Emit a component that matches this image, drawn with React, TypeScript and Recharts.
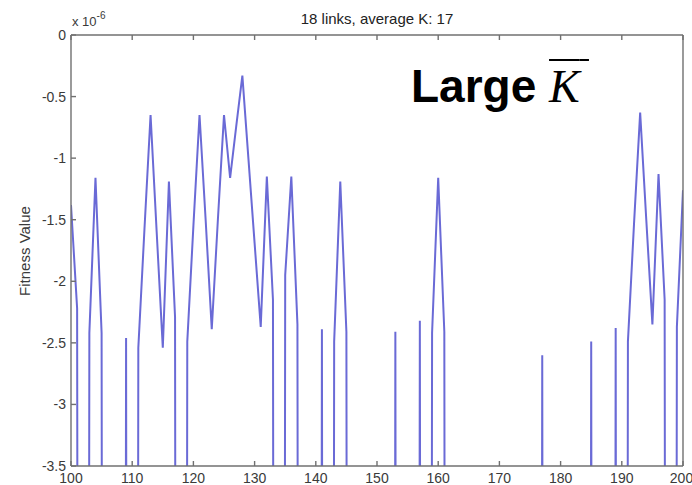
import { LineChart, Line, XAxis, YAxis } from "recharts";

// infeasible link settings: fitness far below the plotted range
const OFF = -40;

// fitness (x 1e-6) for link counts 100..200
const firstLink = 100;
const fitness = [
  -1.38, -2.22, OFF, -2.42, -1.16, -2.42, OFF, OFF, OFF, -2.46,
  OFF, -2.54, -1.58, -0.65, -1.6, -2.54, -1.19, -2.29, OFF, -2.49,
  -1.55, -0.65, -1.5, -2.39, -1.5, -0.65, -1.16, -0.74, -0.33, -1.01,
  -1.69, -2.37, -1.15, -2.15, OFF, -1.95, -1.15, -2.35, OFF, OFF,
  OFF, -2.39, OFF, -2.49, -1.19, -2.41, OFF, OFF, OFF, OFF,
  OFF, OFF, OFF, -2.41, OFF, OFF, OFF, -2.32, OFF, -2.42,
  -1.16, -2.41, OFF, OFF, OFF, OFF, OFF, OFF, OFF, OFF,
  OFF, OFF, OFF, OFF, OFF, OFF, OFF, -2.6, OFF, OFF,
  OFF, OFF, OFF, OFF, OFF, -2.49, OFF, OFF, OFF, -2.38,
  OFF, -2.49, -1.53, -0.63, -1.5, -2.35, -1.13, -2.15, OFF, -2.37,
  -1.26,
];

const xTicks = [100, 110, 120, 130, 140, 150, 160, 170, 180, 190, 200];
const yTicks = [0, -0.5, -1, -1.5, -2, -2.5, -3, -3.5];

const data = fitness.map((f, i) => ({ links: firstLink + i, f }));

const AXIS = "#707070";
const TEXT = "#3a3a3a";
const LINE = "#6a6ad6";
const FONT = "'Liberation Sans', Arial, sans-serif";

const noLabel = () => <g />;

export default function App() {
  return (
    <div
      style={{
        position: "absolute",
        left: 0,
        top: 0,
        width: 692,
        height: 485,
        background: "#fff",
        fontFamily: FONT,
        overflow: "hidden",
      }}
    >
      <LineChart
        width={692}
        height={485}
        data={data}
        margin={{ top: 34, right: 8, bottom: 0, left: 11 }}
        style={{ fontFamily: FONT }}
      >
        <XAxis
          xAxisId="b"
          dataKey="links"
          type="number"
          domain={[100, 200]}
          ticks={xTicks}
          allowDataOverflow
          height={19}
          tickSize={-5}
          tickMargin={12}
          stroke={AXIS}
          strokeWidth={1.4}
          tick={{ fill: TEXT, fontSize: 14 }}
        />
        <XAxis
          xAxisId="t"
          orientation="top"
          dataKey="links"
          type="number"
          domain={[100, 200]}
          ticks={xTicks}
          height={1}
          tickSize={-5}
          stroke={AXIS}
          strokeWidth={1.4}
          tick={noLabel}
        />
        <YAxis
          yAxisId="l"
          type="number"
          domain={[-3.5, 0]}
          ticks={yTicks}
          allowDataOverflow
          width={60}
          tickSize={-5}
          tickMargin={10}
          stroke={AXIS}
          strokeWidth={1.4}
          tick={{ fill: TEXT, fontSize: 14 }}
        />
        <YAxis
          yAxisId="r"
          orientation="right"
          type="number"
          domain={[-3.5, 0]}
          ticks={yTicks}
          width={1}
          tickSize={-5}
          stroke={AXIS}
          strokeWidth={1.4}
          tick={noLabel}
        />
        <Line
          xAxisId="b"
          yAxisId="l"
          dataKey="f"
          type="linear"
          stroke={LINE}
          strokeWidth={2}
          dot={false}
          isAnimationActive={false}
        />
      </LineChart>

      <div
        style={{
          position: "absolute",
          left: 377,
          top: 10,
          transform: "translateX(-50%)",
          fontSize: 15,
          color: "#222",
          whiteSpace: "nowrap",
          lineHeight: "17px",
        }}
      >
        18 links, average K: 17
      </div>

      <div
        style={{
          position: "absolute",
          left: 72,
          top: 14,
          fontSize: 13,
          color: TEXT,
          whiteSpace: "nowrap",
          lineHeight: "15px",
        }}
      >
        x 10<sup style={{ fontSize: 10, verticalAlign: "7px", lineHeight: 0 }}>-6</sup>
      </div>

      <div
        style={{
          position: "absolute",
          left: 24,
          top: 251,
          transform: "translate(-50%, -50%) rotate(-90deg)",
          fontSize: 15,
          color: TEXT,
          whiteSpace: "nowrap",
        }}
      >
        Fitness Value
      </div>

      <div
        style={{
          position: "absolute",
          left: 411,
          top: 63,
          fontSize: 46,
          lineHeight: "46px",
          whiteSpace: "nowrap",
          color: "#000",
        }}
      >
        <span style={{ fontWeight: "bold" }}>Large </span>
        <span
          style={{
            fontFamily: "'Liberation Serif', 'Times New Roman', serif",
            fontStyle: "italic",
            textDecoration: "overline",
            textDecorationThickness: 2,
          }}
        >
          K{"\u2009"}
        </span>
      </div>
    </div>
  );
}
